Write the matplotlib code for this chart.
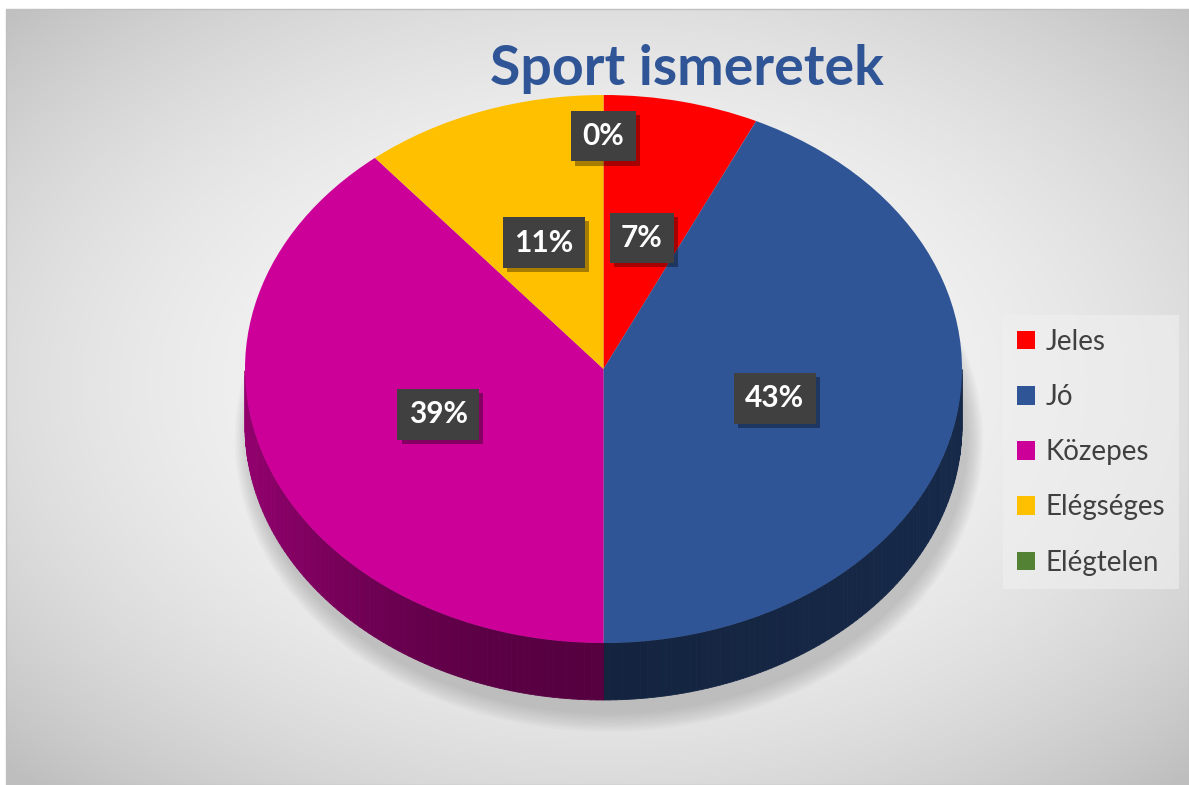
import numpy as np
import matplotlib
matplotlib.use("Agg")
import matplotlib.pyplot as plt
import matplotlib.patheffects as pe
from matplotlib.patches import Ellipse, Rectangle
from matplotlib.collections import PolyCollection

# data
categories = ["Jeles", "Jó", "Közepes", "Elégséges", "Elégtelen"]
values = [7, 43, 39, 11, 0]
colors = ["#FF0000", "#2F5597", "#CC0099", "#FFC000", "#548235"]
title = "Sport ismeretek"

plt.rcParams['font.family'] = ['Lato', 'DejaVu Sans']

W, H = 1189, 785
fig = plt.figure(figsize=(W / 100, H / 100), dpi=100)
fig.patch.set_facecolor("white")

# background panel with radial gradient
bg = fig.add_axes([0, 0, 1, 1], zorder=0)
yy, xx = np.mgrid[0:H, 0:W]
r = np.sqrt(((xx - 600) / 600.0) ** 2 + ((yy - 380) / 390.0) ** 2) / np.sqrt(2)
shade = (248 - 58 * np.clip(r, 0, 1) ** 2.2) / 255.0
bg.imshow(np.dstack([shade] * 3), extent=(6, W, H, 9), interpolation="bilinear")
bg.add_patch(Rectangle((6, 9), W - 6, H - 9, fill=False, ec="#c0c0c0", lw=1))
bg.set_xlim(0, W)
bg.set_ylim(H, 0)
bg.axis("off")

# pie axes, stretched so the unit circle becomes the top ellipse
cx, cy, rx, ry = 603.5, 369, 358.5, 274
depth = 57 / ry
ax = fig.add_axes([0, 0, 1, 1], zorder=1)
ax.patch.set_visible(False)

wedges, texts, autotexts = ax.pie(values, colors=colors, startangle=90, counterclock=False,
                                  autopct='%1.0f%%', pctdistance=0.49,
                                  wedgeprops=dict(linewidth=0, zorder=5),
                                  textprops=dict(color="white", fontsize=21.5, fontweight="bold"))
ax.set_aspect("auto")
ax.set_xlim(-cx / rx, (W - cx) / rx)
ax.set_ylim((cy - H) / ry, cy / ry)
ax.axis("off")

# soft shadow under the pie
for k in range(12):
    grow = 0.004 * k
    ax.add_patch(Ellipse((0.015, -depth - 0.05), 2 + grow * 2, 2 + grow * 3,
                         color="#808080", alpha=0.035, lw=0, zorder=1))

# side wall of the 3D pie, built from the wedge angles
polys, pcols = [], []
for w in wedges:
    base = np.array(matplotlib.colors.to_rgb(w.get_facecolor()))
    t = np.linspace(w.theta1, w.theta2, max(int(abs(w.theta2 - w.theta1)) + 2, 2))
    for a, b in zip(t[:-1], t[1:]):
        m = np.radians(0.5 * (a + b))
        if np.sin(m) >= 0:
            continue
        ra, rb = np.radians(a), np.radians(b)
        polys.append([(np.cos(ra), np.sin(ra)), (np.cos(rb), np.sin(rb)),
                      (np.cos(rb), np.sin(rb) - depth), (np.cos(ra), np.sin(ra) - depth)])
        f = 0.42 + 0.3 * max(0.0, -np.cos(m)) ** 2 + 0.06 * max(0.0, np.cos(m))
        pcols.append(np.clip(base * f, 0, 1))
ax.add_collection(PolyCollection(polys, facecolors=pcols, edgecolors=pcols,
                                 linewidths=0.6, zorder=3))

# data labels
for i, t in enumerate(autotexts):
    if values[i] == 0:
        ang = np.radians(90 - 360 * sum(values[:i]) / sum(values))
        t.set_position((0.85 * np.cos(ang), 0.85 * np.sin(ang)))
    t.set_zorder(10)
    t.set_bbox(dict(boxstyle="square,pad=0.38", fc="#404040", ec="none"))
    t.get_bbox_patch().set_path_effects([
        pe.SimplePatchShadow(offset=(3, -3), shadow_rgbFace="black", alpha=0.35),
        pe.Normal()])

# legend
leg = ax.legend(wedges, categories, loc="upper left",
                bbox_to_anchor=(1003 / W, 1 - 315 / H), bbox_transform=fig.transFigure,
                frameon=True, fancybox=False, framealpha=0.6, facecolor="#f0f0f0",
                edgecolor="none", fontsize=20, handlelength=0.65, handleheight=0.65,
                handletextpad=0.38, labelspacing=1.05, borderpad=0.5, borderaxespad=0)
for txt in leg.get_texts():
    txt.set_color("#404040")

fig.text(687 / W, 1 - 85 / H, title, ha="center", va="baseline",
         fontsize=40, fontweight="bold", color="#2F5597")

fig.savefig("out.png", dpi=100)
